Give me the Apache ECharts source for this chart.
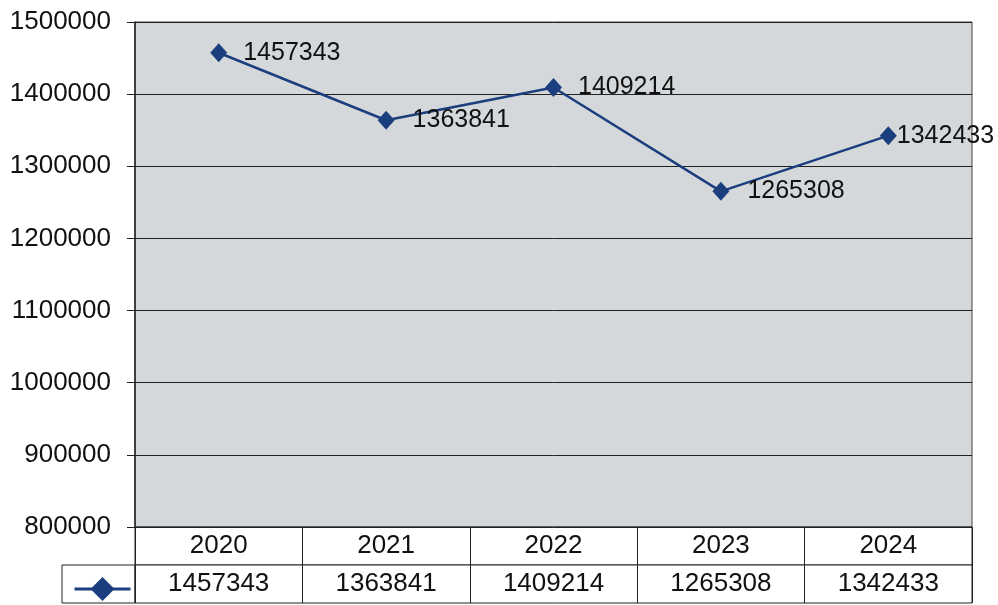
<!DOCTYPE html>
<html>
<head>
<meta charset="utf-8">
<script src="https://cdn.jsdelivr.net/npm/echarts@6/dist/echarts.min.js"></script>
<style>
  html, body { margin: 0; padding: 0; background: #fff; }
  #chart { width: 998px; height: 605px; }
</style>
</head>
<body>
<div id="chart"></div>
<script>
const years = ["2020", "2021", "2022", "2023", "2024"];
const values = [1457343, 1363841, 1409214, 1265308, 1342433];
const yTicks = { min: 800000, max: 1500000, step: 100000 };
const seriesName = "Series";

const font = "'Liberation Sans', Arial, sans-serif";
const lineColor = "#1b3f7e";

// the last label sits closer to its marker, as in the original
const labelDistances = [16, 18, 16, 18, 0];

const chart = echarts.init(document.getElementById("chart"));

chart.setOption({
  animation: false,
  textStyle: { fontFamily: font },
  grid: [
    {
      left: 135, right: 26, top: 22, bottom: 78,
      show: true,
      backgroundColor: "#d5d8db",
      borderColor: "#444",
      borderWidth: 1
    },
    {
      left: 135, right: 26, top: 527, height: 38,
      show: true,
      backgroundColor: "#fff",
      borderColor: "#222",
      borderWidth: 1
    },
    {
      left: 135, right: 26, top: 565, height: 38,
      show: true,
      backgroundColor: "#fff",
      borderColor: "#222",
      borderWidth: 1
    }
  ],
  legend: {
    left: 68,
    top: 569,
    itemWidth: 56,
    itemHeight: 30,
    formatter: () => "",
    data: [seriesName],
    lineStyle: { width: 3 },
    textStyle: { fontSize: 1 }
  },
  graphic: [
    {
      type: "rect",
      shape: { x: 62, y: 565, width: 73, height: 38 },
      style: { fill: "#fff", stroke: "#222", lineWidth: 1 },
      z: -1
    }
  ],
  xAxis: [
    {
      type: "category",
      gridIndex: 0,
      data: years,
      axisLine: { show: false },
      axisTick: { show: false },
      axisLabel: { show: false }
    },
    {
      type: "category",
      gridIndex: 1,
      data: years,
      position: "top",
      axisLine: { show: false },
      axisTick: { show: false },
      splitLine: { show: true, lineStyle: { color: "#222", width: 1 } },
      axisLabel: {
        inside: true,
        margin: 6,
        fontSize: 26,
        color: "#111",
        fontFamily: font
      }
    },
    {
      type: "category",
      gridIndex: 2,
      data: values.map(String),
      position: "top",
      axisLine: { show: false },
      axisTick: { show: false },
      splitLine: { show: true, lineStyle: { color: "#222", width: 1 } },
      axisLabel: {
        inside: true,
        margin: 6,
        fontSize: 26,
        color: "#111",
        fontFamily: font
      }
    }
  ],
  yAxis: [
    {
      type: "value",
      gridIndex: 0,
      min: yTicks.min,
      max: yTicks.max,
      interval: yTicks.step,
      axisLine: { show: true, lineStyle: { color: "#222", width: 1.5 } },
      axisTick: { show: true, length: 8, lineStyle: { color: "#222" } },
      splitLine: { show: true, lineStyle: { color: "#222", width: 1 } },
      axisLabel: {
        margin: 24,
        fontSize: 26,
        color: "#111",
        fontFamily: font,
        formatter: v => String(v)
      }
    },
    { type: "value", gridIndex: 1, show: false },
    { type: "value", gridIndex: 2, show: false }
  ],
  series: [
    {
      name: seriesName,
      type: "line",
      xAxisIndex: 0,
      yAxisIndex: 0,
      data: values.map((v, i) => ({ value: v, label: { distance: labelDistances[i] } })),
      symbol: "diamond",
      symbolSize: [17, 19],
      itemStyle: { color: lineColor },
      lineStyle: { color: lineColor, width: 2.5 },
      label: {
        show: true,
        position: "right",
        fontSize: 25,
        color: "#111",
        fontFamily: font
      }
    }
  ]
});
</script>
</body>
</html>
